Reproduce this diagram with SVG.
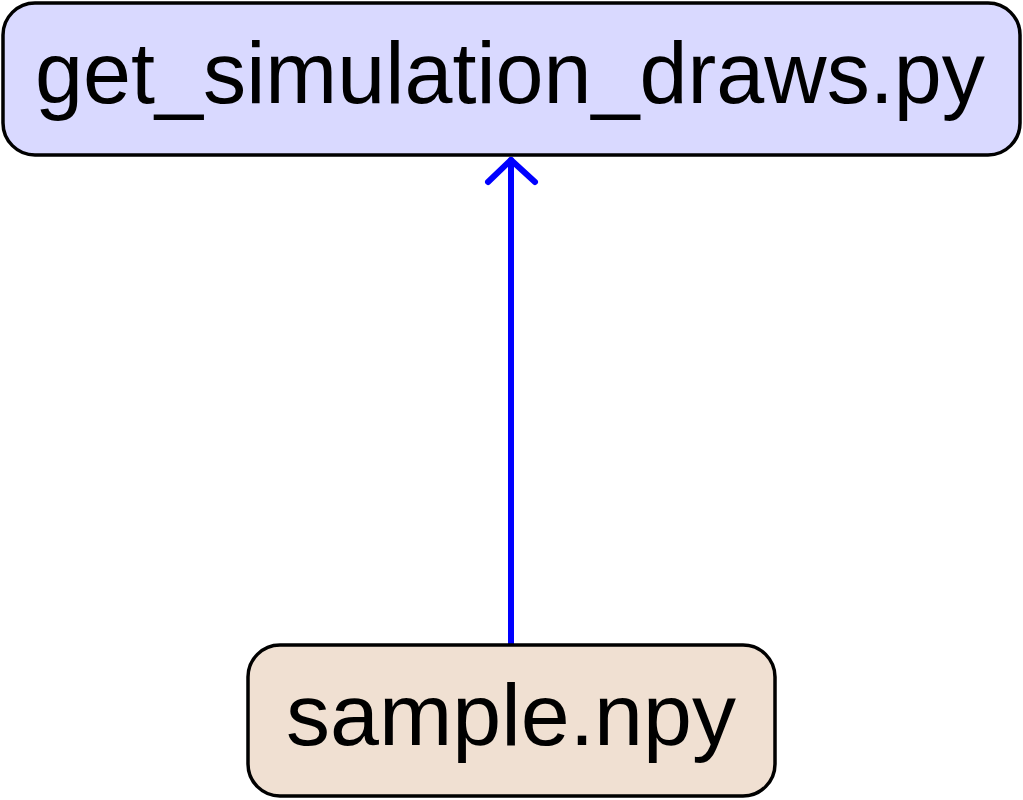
<svg xmlns="http://www.w3.org/2000/svg" width="1023" height="800" viewBox="0 0 1023 800">
<style>
.node rect{stroke:#000;stroke-width:3.5}
.node text{font-family:"Liberation Sans",Arial,sans-serif;font-size:88px;fill:#000;text-anchor:middle}
.edge{stroke:#0000ff;stroke-width:6;fill:none;stroke-linecap:round;stroke-linejoin:round}
</style>
<rect width="1023" height="800" fill="#fff"/>
<g id="connectors">
<line class="edge" x1="511" y1="645" x2="511" y2="160" stroke-linecap="butt"/>
<polyline class="edge" points="488,182 511,160 535,182"/>
</g>
<g id="get_simulation_draws" class="node">
<rect x="3" y="3" width="1017" height="152" rx="32" fill="#d9d9ff"/>
<text x="510" y="103" textLength="950" lengthAdjust="spacingAndGlyphs">get_simulation_draws.py</text>
</g>
<g id="sample_npy" class="node">
<rect x="248" y="645" width="527" height="151" rx="32" fill="#f0e0d2"/>
<text x="511" y="745">sample.npy</text>
</g>
</svg>
